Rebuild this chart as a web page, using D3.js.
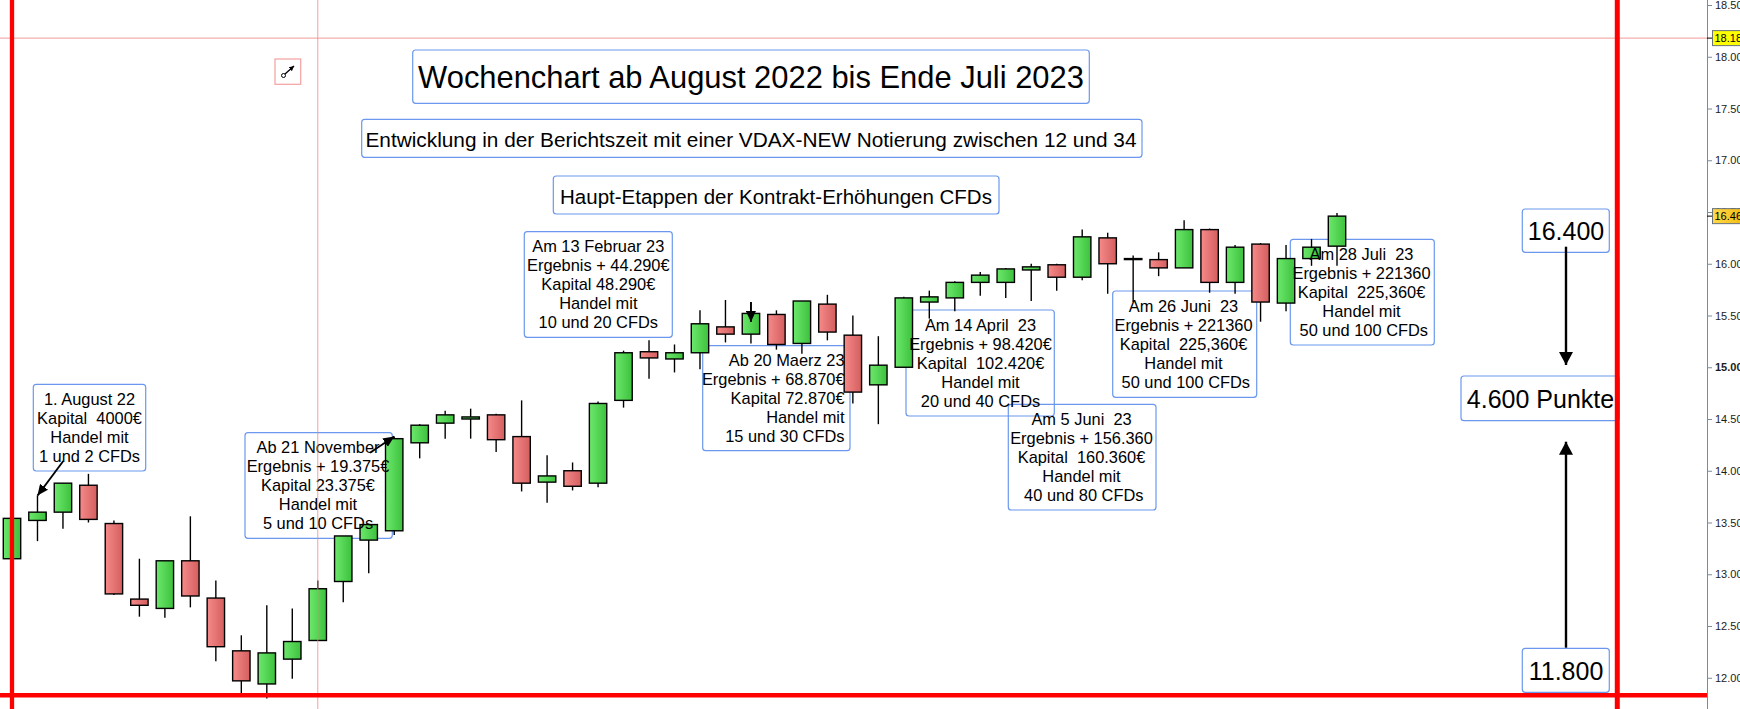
<!DOCTYPE html>
<html>
<head>
<meta charset="utf-8">
<script src="https://cdn.jsdelivr.net/npm/d3@7"></script>
<style>
html, body { margin: 0; padding: 0; background: #fff; overflow: hidden; }
svg { display: block; font-family: "Liberation Sans", Arial, sans-serif; }
text { white-space: pre; }
</style>
</head>
<body>
<div id="chart"></div>
<script>
// weekly candles, first week = 25 July 2022
var firstWeek = new Date(Date.UTC(2022, 6, 25));
var weeks = d3.utcMonday.range(firstWeek, d3.utcWeek.offset(firstWeek, 53));

var opens  = [13.15, 13.52, 13.60, 13.86, 13.49, 12.76, 12.67, 13.13, 12.77, 12.26, 11.94, 12.18, 12.36, 12.93, 13.33, 13.42, 14.27, 14.46, 14.50, 14.54, 14.33, 13.89, 14.00, 13.88, 14.68, 15.15, 15.08, 15.14, 15.39, 15.32, 15.51, 15.23, 15.61, 15.31, 14.83, 15.00, 15.63, 15.67, 15.82, 15.82, 15.94, 15.99, 15.87, 16.25, 16.05, 16.04, 15.96, 16.33, 15.82, 16.19, 15.62, 16.05, 16.17];
var highs  = [13.54, 13.76, 13.88, 13.97, 13.52, 13.15, 13.13, 13.56, 12.94, 12.41, 12.70, 12.67, 12.94, 13.37, 13.48, 14.33, 14.45, 14.58, 14.60, 14.55, 14.68, 14.15, 14.08, 14.67, 15.16, 15.26, 15.22, 15.55, 15.65, 15.63, 15.55, 15.64, 15.70, 15.50, 15.30, 15.68, 15.74, 15.83, 15.92, 15.96, 16.00, 16.00, 16.33, 16.30, 16.08, 16.11, 16.42, 16.34, 16.18, 16.20, 16.18, 16.24, 16.49];
var lows   = [13.15, 13.32, 13.44, 13.50, 12.80, 12.59, 12.58, 12.68, 12.16, 11.84, 11.80, 11.99, 12.36, 12.73, 13.01, 13.38, 14.12, 14.31, 14.31, 14.18, 13.80, 13.69, 13.81, 13.84, 14.61, 14.89, 14.95, 14.98, 15.24, 15.23, 15.17, 15.13, 15.26, 14.65, 14.45, 15.00, 15.47, 15.54, 15.69, 15.67, 15.64, 15.74, 15.84, 15.71, 15.63, 15.88, 15.96, 15.72, 15.71, 15.44, 15.54, 15.98, 15.98];
var closes = [13.54, 13.60, 13.88, 13.53, 12.81, 12.70, 13.13, 12.79, 12.30, 11.97, 12.24, 12.35, 12.86, 13.37, 13.48, 14.31, 14.44, 14.54, 14.52, 14.30, 13.88, 13.95, 13.85, 14.65, 15.14, 15.09, 15.14, 15.42, 15.32, 15.52, 15.22, 15.64, 15.34, 14.76, 15.02, 15.67, 15.68, 15.82, 15.89, 15.95, 15.97, 15.87, 16.26, 16.00, 16.05, 15.96, 16.33, 15.82, 16.16, 15.63, 16.05, 16.16, 16.46];

var axisTicks = [12, 12.5, 13, 13.5, 14, 14.5, 15, 15.5, 16, 16.5, 17, 17.5, 18, 18.5];
var markLevel = 18.18;      // pink horizontal marker
var frameLevel = 11.83;     // red bottom line
var markWeek = 12;          // pink vertical marker (index)
var endWeekOffset = 63;     // red right line (weeks after first)

var titleText = "Wochenchart ab August 2022 bis Ende Juli 2023";
var subtitleText = "Entwicklung in der Berichtszeit mit einer VDAX-NEW Notierung zwischen 12 und 34";
var stageText = "Haupt-Etappen der Kontrakt-Erhöhungen CFDs";

var noteAugust   = ["1. August 22", "Kapital  4000€", "Handel mit", "1 und 2 CFDs"];
var noteNovember = ["Ab 21 November", "Ergebnis + 19.375€", "Kapital 23.375€", "Handel mit", "5 und 10 CFDs"];
var noteFebruar  = ["Am 13 Februar 23", "Ergebnis + 44.290€", "Kapital 48.290€", "Handel mit", "10 und 20 CFDs"];
var noteMaerz    = ["Ab 20 Maerz 23", "Ergebnis + 68.870€", "Kapital 72.870€", "Handel mit", "15 und 30 CFDs"];
var noteApril    = ["Am 14 April  23", "Ergebnis + 98.420€", "Kapital  102.420€", "Handel mit", "20 und 40 CFDs"];
var noteJuni5    = ["Am 5 Juni  23", "Ergebnis + 156.360", "Kapital  160.360€", "Handel mit", " 40 und 80 CFDs"];
var noteJuni26   = ["Am 26 Juni  23", "Ergebnis + 221360", "Kapital  225,360€", "Handel mit", " 50 und 100 CFDs"];
var noteJuli     = ["Am 28 Juli  23", "Ergebnis + 221360", "Kapital  225,360€", "Handel mit", " 50 und 100 CFDs"];

var rangeTop = "16.400", rangeSpan = "4.600 Punkte", rangeBottom = "11.800";

(function () {
    var W = 1740, H = 709, axisX = 1707;
    var boxColor = "#6b98ee";

    var x = d3.scaleUtc().domain([weeks[0], weeks[52]]).range([12, 1337]);
    var y = d3.scaleLinear().domain([12, 18.5]).range([677.75, 5]);
    var bodyW = 17.4;

    var candles = weeks.map(function (d, i) {
        return {date: d, o: opens[i], h: highs[i], l: lows[i], c: closes[i]};
    });

    var svg = d3.select("#chart").append("svg")
        .attr("width", W).attr("height", H);

    var defs = svg.append("defs");
    function grad(id, c1, c2) {
        var g = defs.append("linearGradient").attr("id", id)
            .attr("x1", 0).attr("x2", 1).attr("y1", 0).attr("y2", 0);
        g.append("stop").attr("offset", "0%").attr("stop-color", c1);
        g.append("stop").attr("offset", "100%").attr("stop-color", c2);
    }
    grad("up", "#6ce86c", "#3dc13d");
    grad("down", "#f68a8a", "#d45e5e");
    grad("flag", "#ffd94a", "#f2b200");

    function marker(id, len, wid) {
        defs.append("marker").attr("id", id)
            .attr("markerUnits", "userSpaceOnUse")
            .attr("markerWidth", len).attr("markerHeight", wid)
            .attr("refX", len).attr("refY", wid / 2)
            .attr("orient", "auto")
            .append("path")
            .attr("d", "M0,0L" + len + "," + wid / 2 + "L0," + wid + "Z")
            .attr("fill", "#000");
    }
    marker("headS", 11, 10);
    marker("headL", 13, 14);
    marker("headI", 5, 5);

    // pink marker line (horizontal)
    svg.append("line")
        .attr("x1", 0).attr("x2", axisX)
        .attr("y1", y(markLevel)).attr("y2", y(markLevel))
        .attr("stroke", "#f29c9c").attr("stroke-width", 1);

    // title boxes
    function box(x0, y0, w, h) {
        svg.append("rect")
            .attr("x", x0).attr("y", y0).attr("width", w).attr("height", h)
            .attr("rx", 3).attr("fill", "none")
            .attr("stroke", boxColor).attr("stroke-width", 1.2);
    }
    box(412.7, 50, 676.6, 53.3);
    box(361.7, 119.3, 780.3, 38);
    box(553.3, 176, 445.7, 38);

    var heads = [
        {t: titleText, x: 751, y: 77, size: 30.9},
        {t: subtitleText, x: 751, y: 139, size: 20.8},
        {t: stageText, x: 776, y: 196, size: 20.5}
    ];
    svg.selectAll(".head").data(heads).enter().append("text")
        .attr("class", "head")
        .attr("x", function (d) { return d.x; })
        .attr("y", function (d) { return d.y; })
        .attr("text-anchor", "middle")
        .attr("dominant-baseline", "central")
        .attr("font-size", function (d) { return d.size; })
        .attr("fill", "#000")
        .text(function (d) { return d.t; });

    // little tool icon
    svg.append("rect").attr("x", 275).attr("y", 59).attr("width", 25.7).attr("height", 25.3)
        .attr("fill", "#fff").attr("stroke", "#f4a0a0").attr("stroke-width", 1.2);
    svg.append("circle").attr("cx", 283.5).attr("cy", 75.5).attr("r", 2)
        .attr("fill", "none").attr("stroke", "#000").attr("stroke-width", 1);
    svg.append("line").attr("x1", 285).attr("y1", 74).attr("x2", 294).attr("y2", 66)
        .attr("stroke", "#000").attr("stroke-width", 1.3).attr("marker-end", "url(#headI)");

    // annotation boxes (transparent)
    var notes = [
        {lines: noteAugust,   bx: 33.3,   by: 384.3, bw: 112.4, bh: 86.7,  tx: 89.5,   anchor: "middle"},
        {lines: noteNovember, bx: 245,    by: 432.7, bw: 147.3, bh: 105.6, tx: 318,    anchor: "middle"},
        {lines: noteFebruar,  bx: 524.3,  by: 231.7, bw: 148,   bh: 105.6, tx: 598.3,  anchor: "middle"},
        {lines: noteMaerz,    bx: 702.7,  by: 345.7, bw: 147.3, bh: 105,   tx: 844.5,  anchor: "end"},
        {lines: noteApril,    bx: 906,    by: 310,   bw: 148.3, bh: 106,   tx: 980.5,  anchor: "middle"},
        {lines: noteJuni5,    bx: 1008.3, by: 404.3, bw: 147.7, bh: 105.7, tx: 1081.5, anchor: "middle"},
        {lines: noteJuni26,   bx: 1112.7, by: 291,   bw: 144,   bh: 106.3, tx: 1183.5, anchor: "middle"},
        {lines: noteJuli,     bx: 1290.3, by: 239.3, bw: 144,   bh: 105.7, tx: 1361.5, anchor: "middle"}
    ];
    notes.forEach(function (n) { box(n.bx, n.by, n.bw, n.bh); });

    // candles
    var wicks = svg.append("g");
    wicks.selectAll("line").data(candles).enter().append("line")
        .attr("x1", function (d) { return x(d.date); })
        .attr("x2", function (d) { return x(d.date); })
        .attr("y1", function (d) { return y(d.h); })
        .attr("y2", function (d) { return y(d.l); })
        .attr("stroke", "#000").attr("stroke-width", 1.4);

    var bodies = svg.append("g");
    bodies.selectAll("rect").data(candles).enter().append("rect")
        .attr("x", function (d) { return x(d.date) - bodyW / 2; })
        .attr("width", bodyW)
        .attr("y", function (d) { return y(Math.max(d.o, d.c)); })
        .attr("height", function (d) { return Math.max(1, Math.abs(y(d.o) - y(d.c))); })
        .attr("fill", function (d) {
            if (d.o === d.c) return "#000";
            return d.c > d.o ? "url(#up)" : "url(#down)";
        })
        .attr("stroke", "#000").attr("stroke-width", 1.4);

    // annotation texts
    notes.forEach(function (n) {
        svg.append("g").selectAll("text").data(n.lines).enter().append("text")
            .attr("x", n.tx)
            .attr("y", function (d, i) { return n.by + 14.5 + i * 19; })
            .attr("text-anchor", n.anchor)
            .attr("dominant-baseline", "central")
            .attr("font-size", 16.4)
            .attr("fill", "#000")
            .text(function (d) { return d; });
    });

    // annotation arrows
    var arrows = [
        {x1: 63.3, y1: 461, x2: x(weeks[1]), y2: y(highs[1])},
        {x1: 370, y1: 452.7, x2: x(weeks[15]), y2: y(highs[15])},
        {x1: x(weeks[29]), y1: y(highs[29]), x2: x(weeks[29]), y2: y(highs[29]) + 20}
    ];
    svg.append("g").selectAll("line").data(arrows).enter().append("line")
        .attr("x1", function (d) { return d.x1; })
        .attr("y1", function (d) { return d.y1; })
        .attr("x2", function (d) { return d.x2; })
        .attr("y2", function (d) { return d.y2; })
        .attr("stroke", "#000").attr("stroke-width", 1.8)
        .attr("marker-end", "url(#headS)");

    // pink vertical marker
    svg.append("line")
        .attr("x1", x(weeks[markWeek])).attr("x2", x(weeks[markWeek]))
        .attr("y1", 0).attr("y2", H)
        .attr("stroke", "#f57f7f").attr("stroke-opacity", 0.75).attr("stroke-width", 1);

    // range boxes on the right
    box(1522.3, 209, 87, 43.3);
    box(1461, 376, 158.3, 44.7);
    box(1522.3, 648.3, 87, 44);

    // red frame lines
    var endX = x(d3.utcWeek.offset(weeks[0], endWeekOffset));
    svg.append("line").attr("x1", x(weeks[0])).attr("x2", x(weeks[0]))
        .attr("y1", 0).attr("y2", H).attr("stroke", "#ff0000").attr("stroke-width", 4.3);
    svg.append("line").attr("x1", endX).attr("x2", endX)
        .attr("y1", 0).attr("y2", H).attr("stroke", "#ff0000").attr("stroke-width", 5);
    svg.append("line").attr("x1", 0).attr("x2", axisX)
        .attr("y1", y(frameLevel)).attr("y2", y(frameLevel))
        .attr("stroke", "#ff0000").attr("stroke-width", 4.5);

    var big = [
        {t: rangeTop, x: 1566, y: 230.5},
        {t: rangeSpan, x: 1540.5, y: 399},
        {t: rangeBottom, x: 1566, y: 671}
    ];
    svg.selectAll(".big").data(big).enter().append("text")
        .attr("class", "big")
        .attr("x", function (d) { return d.x; })
        .attr("y", function (d) { return d.y; })
        .attr("text-anchor", "middle")
        .attr("dominant-baseline", "central")
        .attr("font-size", 25)
        .attr("fill", "#000")
        .text(function (d) { return d.t; });

    svg.append("line").attr("x1", 1566).attr("x2", 1566).attr("y1", 246.7).attr("y2", 365)
        .attr("stroke", "#000").attr("stroke-width", 2.4).attr("marker-end", "url(#headL)");
    svg.append("line").attr("x1", 1566).attr("x2", 1566).attr("y1", 647.7).attr("y2", 441.7)
        .attr("stroke", "#000").attr("stroke-width", 2.4).attr("marker-end", "url(#headL)");

    // right price axis
    var axisG = svg.append("g")
        .attr("transform", "translate(" + axisX + ",0)")
        .call(d3.axisRight(y).tickValues(axisTicks).tickSize(5).tickPadding(3)
            .tickFormat(d3.format(".3f")));
    axisG.select(".domain").remove();
    axisG.selectAll(".tick line").attr("stroke", "#7d8b98");
    axisG.selectAll(".tick text")
        .attr("font-family", "Liberation Sans, Arial, sans-serif")
        .attr("font-size", 11).attr("fill", "#1b1b1b")
        .attr("font-weight", function (d) { return d === 15 ? "bold" : null; });
    svg.append("line").attr("x1", axisX + 0.5).attr("x2", axisX + 0.5)
        .attr("y1", 0).attr("y2", H).attr("stroke", "#7d8b98").attr("stroke-width", 1);

    // price flags
    function flag(v, fill) {
        var yy = y(v);
        svg.append("line").attr("x1", axisX).attr("x2", 1713).attr("y1", yy).attr("y2", yy)
            .attr("stroke", "#000").attr("stroke-width", 1);
        svg.append("rect").attr("x", 1712.5).attr("y", yy - 7.5).attr("width", 40).attr("height", 15)
            .attr("fill", fill).attr("stroke", "#66717c").attr("stroke-width", 1);
        svg.append("text").attr("x", 1714.5).attr("y", yy).attr("dominant-baseline", "central")
            .attr("font-size", 11).attr("fill", "#000").text(v.toFixed(3));
    }
    flag(markLevel, "#ffff00");
    flag(closes[closes.length - 1], "url(#flag)");
})();
</script>
</body>
</html>
